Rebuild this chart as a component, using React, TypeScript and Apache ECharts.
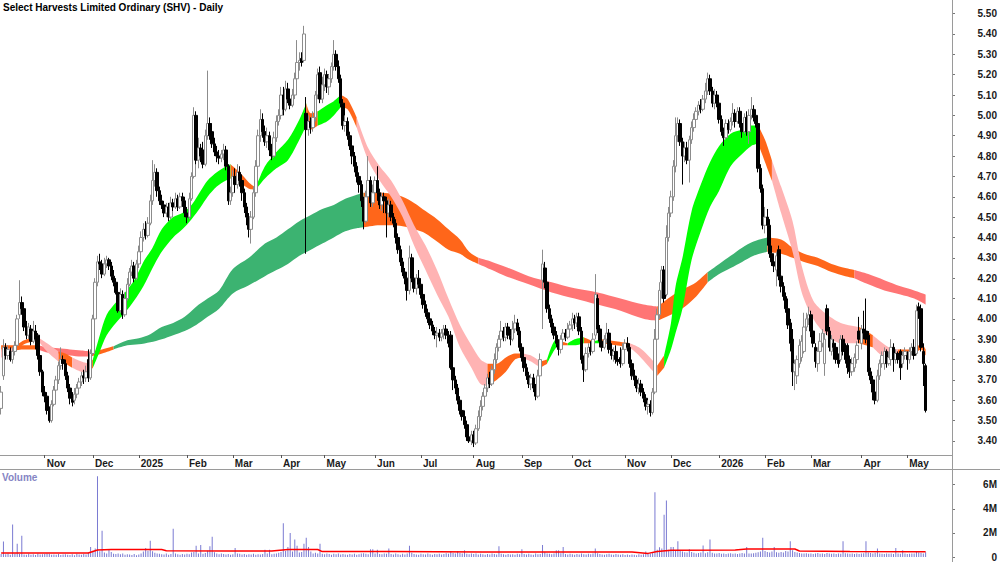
import React, { useEffect, useRef } from "react";
import * as echarts from "echarts";

const TITLE = "Select Harvests Limited Ordinary (SHV) - Daily";
const FIRST_DAY = "2024-10-07";
const HOLIDAYS = [
  "2024-12-25", "2024-12-26", "2025-01-01", "2025-01-27", "2025-04-18", "2025-04-21",
  "2025-04-25", "2025-06-09", "2025-12-25", "2025-12-26", "2026-01-01", "2026-01-26",
  "2026-04-03", "2026-04-06",
];
const EMPTY_SLOTS = 11;
const MONTH_NAMES = ["Jan", "Feb", "Mar", "Apr", "May", "Jun", "Jul", "Aug", "Sep", "Oct", "Nov", "Dec"];
const PRICE_TICKS = ["3.40", "3.50", "3.60", "3.70", "3.80", "3.90", "4.00", "4.10", "4.20", "4.30", "4.40", "4.50", "4.60", "4.70", "4.80", "4.90", "5.00", "5.10", "5.20", "5.30", "5.40", "5.50"];
const VOLUME_TICKS = [0, 2000000, 4000000, 6000000];
const VOLUME_TICK_LABELS = ["0", "2M", "4M", "6M"];

// daily bars [open, close, low, high] in cents
const ohlc2024 = [
  [356,364,353,367],[372,386,370,390],[386,382,380,388],[382,385,380,387],[384,380,379,386],[380,384,378,386],[384,387,382,389],[387,400,386,402],[402,408,400,419],[408,405,402,411],
  [405,396,394,407],[396,392,390,399],[392,396,390,398],[395,389,387,397],[389,394,388,399],[394,390,385,397],[392,382,380,393],[382,374,372,384],[374,364,362,375],
  [364,362,359,367],[362,355,353,364],[355,350,349,357],[350,358,349,360],[358,365,357,367],[365,370,363,372],[370,377,368,379],[377,380,375,386],[380,378,375,382],[378,372,370,380],
  [372,366,364,374],[366,361,358,368],[361,359,357,364],[360,363,358,366],[363,366,361,368],[366,369,364,371],[369,372,367,374],[372,371,368,375],[371,374,369,377],[380,371,369,385],[371,383,370,385],
  [383,400,382,402],[400,418,399,420],[418,428,416,431],[428,427,424,432],[427,422,420,429],[422,427,421,430],[427,429,425,431],[429,426,424,430],[426,421,419,428],[421,418,416,424],
  [418,413,412,420],[413,404,403,415],[404,412,403,415],[412,402,400,414],[402,410,401,413],[410,417,409,420],[417,423,416,425],[423,426,421,429],[426,420,418,428],[420,427,419,429],
];
const ohlc2025H1 = [
  [427,433,425,436],[433,440,431,443],[440,444,438,447],[444,441,439,448],[441,447,440,450],[447,458,446,461],[458,468,456,478],[468,472,465,476],[472,463,460,474],[463,458,456,465],
  [458,456,454,461],[456,452,450,458],[452,455,450,457],[455,450,448,457],[450,457,449,460],[457,455,453,459],[455,459,454,462],[459,455,453,461],[455,460,454,462],[460,458,455,462],[458,452,450,460],
  [452,450,447,455],[450,459,449,462],[459,470,458,472],[470,500,469,504],[500,478,476,502],[478,484,474,489],[484,480,477,486],[483,476,474,487],[476,490,475,493],[490,496,488,522],
  [496,490,488,499],[492,486,484,496],[486,482,480,489],[482,480,477,485],[480,479,476,483],[479,481,477,483],[481,483,478,486],[483,475,473,485],[475,458,456,476],[458,462,456,465],
  [462,470,460,473],[470,466,462,474],[466,472,464,476],[472,468,465,475],[468,462,458,471],[462,455,452,464],[455,450,446,457],[450,444,440,452],[444,450,437,453],[450,462,449,465],
  [462,475,460,478],[475,490,473,493],[490,498,487,503],[498,492,489,501],[492,487,485,495],[487,490,484,494],[490,483,480,492],[483,480,478,486],[480,489,479,492],[489,497,487,500],[497,500,495,503],
  [500,510,498,514],[510,503,500,514],[503,513,502,517],[513,508,506,516],[508,505,503,511],[505,510,504,513],[510,518,508,521],[518,526,516,537],[526,527,522,531],[528,526,524,531],
  [527,540,526,544],[501,493,432,509],[493,497,490,500],[497,494,491,499],[494,499,492,502],[499,510,497,512],[510,520,508,523],[521,508,506,524],[508,515,506,519],
  [515,520,512,523],[520,514,511,522],[514,518,510,520],[518,524,516,526],[524,530,522,537],[530,524,522,532],[524,518,516,527],[518,506,504,520],[506,495,493,508],[495,497,492,500],
  [497,490,488,499],[490,485,483,492],[485,480,476,487],[480,475,472,482],[475,470,467,477],[470,466,462,472],[466,458,455,468],[458,448,444,460],[448,460,447,463],[460,468,458,480],[468,457,455,470],[457,462,455,466],
  [462,468,460,470],[468,462,458,475],[462,456,454,464],[456,460,453,462],[460,458,452,462],[458,452,440,460],[452,456,450,459],[456,450,448,458],[450,447,445,452],[447,440,437,449],
  [440,434,432,442],[434,428,426,436],[428,423,421,430],[423,420,417,425],[420,414,409,421],[414,430,412,436],[430,420,418,432],[420,415,413,424],[415,420,412,422],[420,417,415,424],
];
const ohlc2025H2 = [
  [417,412,410,420],[412,407,405,414],[407,403,401,409],[403,400,398,405],[400,397,395,402],[397,394,392,399],[394,392,390,396],[392,393,386,396],[393,391,389,395],[391,393,389,395],
  [393,395,390,397],[395,392,390,397],[392,388,386,394],[392,376,375,394],[376,370,365,378],[370,366,363,372],[366,360,358,368],[360,355,353,362],[355,352,350,358],[352,348,346,355],
  [348,342,340,350],[342,340,339,344],[340,343,338,345],
  [343,339,337,345],[339,346,338,348],[346,352,345,355],[352,357,350,360],[357,362,355,364],[362,366,360,368],[366,371,364,373],[371,368,366,374],[368,375,367,377],[375,380,373,383],
  [380,386,378,388],[386,390,384,392],[390,394,388,399],[394,391,389,396],[391,396,389,398],[396,392,390,398],[392,390,387,395],[390,395,389,399],[395,398,393,402],[398,394,392,400],[394,386,384,396],
  [386,381,379,388],[381,376,374,383],[376,372,370,378],[372,368,366,374],[368,371,365,373],[371,366,364,373],[366,362,360,368],[362,372,361,375],[372,380,370,383],[419,427,395,434],
  [425,418,415,428],[418,405,403,420],[405,400,398,407],[400,396,393,402],[396,392,390,398],[392,388,386,394],[388,385,382,390],[385,390,383,392],[390,393,388,395],[393,391,389,395],[391,395,390,398],[395,397,393,399],
  [397,400,394,403],[400,398,395,402],[398,401,396,403],[401,394,392,403],[394,380,378,396],[380,375,369,382],[375,383,374,386],[383,386,381,388],[386,384,382,389],[384,390,383,393],
  [392,412,390,422],[410,395,393,412],[395,389,386,397],[389,386,384,392],[386,390,385,392],[390,393,388,398],[393,385,383,395],[385,382,380,388],[382,384,379,386],[384,380,378,387],
  [380,379,377,383],[381,378,376,386],[378,385,377,388],
  [385,388,383,390],[388,386,384,391],[386,378,376,388],[378,372,370,380],[372,370,367,375],[370,366,364,372],[366,368,363,371],[368,364,362,370],[364,361,359,366],[361,357,355,363],
  [357,358,353,360],[358,354,352,360],[354,364,353,366],[364,390,363,395],[390,402,388,405],[402,414,400,418],[418,424,410,426],[424,410,408,426],[412,440,411,446],[440,452,438,455],
  [452,460,450,463],[460,475,458,478],[475,490,472,499],[490,496,487,499],[496,487,485,498],[487,480,466,489],[480,484,477,487],[484,478,476,487],[478,488,467,490],[488,494,486,497],
  [494,498,492,501],[498,502,496,504],[502,505,500,507],[505,503,501,508],[503,508,502,510],[508,512,506,516],[512,518,510,521],[518,512,510,520],[512,506,504,514],[506,510,503,513],[510,506,504,512],
];
const ohlc2026 = [
  [506,498,496,508],[498,492,490,500],[492,489,485,494],[489,496,488,498],[496,493,491,498],[493,497,492,499],[497,501,495,506],[501,497,494,503],[497,502,496,504],[502,496,494,504],
  [496,492,489,498],[492,499,491,501],[499,492,490,502],[492,500,486,503],[500,503,498,509],[503,499,497,505],[500,496,494,503],[496,474,472,498],[474,464,462,476],[464,446,444,466],
  [446,450,442,455],[450,446,436,454],[446,432,430,449],[432,428,426,436],[428,426,423,432],[424,431,416,433],[434,421,419,436],[421,416,413,423],[416,411,409,418],[411,405,403,413],
  [405,397,395,410],[398,388,384,400],[390,374,367,395],[374,378,365,380],[372,380,368,382],[378,387,376,390],[381,389,379,392],[384,396,383,403],[396,400,394,403],[400,402,397,406],
  [402,394,391,404],[394,388,386,396],[386,379,376,388],[378,384,374,386],[384,389,382,393],[388,393,386,395],[378,390,372,393],[405,394,392,407],[394,386,384,396],[384,390,382,392],
  [388,386,380,390],[386,380,378,388],[380,378,376,383],[380,390,379,392],[390,384,382,392],[386,380,378,388],[387,376,373,388],[380,374,371,382],[374,378,372,381],[376,381,374,383],
  [380,387,378,389],[394,390,388,401],
  [388,395,385,397],[395,393,390,404],[394,390,388,410],[392,374,372,394],[374,370,368,376],[370,364,360,372],[364,360,358,366],[360,372,359,375],[372,378,370,380],[378,382,376,384],
  [378,384,375,386],[384,378,376,385],[378,381,377,384],[380,386,377,390],[386,380,374,388],[380,383,378,385],[383,380,378,384],[384,376,370,385],[378,382,376,384],[382,384,380,386],
  [382,380,375,384],[380,384,378,386],[384,386,382,388],[386,382,380,390],[383,404,382,407],[406,404,400,408],[405,386,384,407],[384,378,367,388],[377,355,354,378],
];

// daily volume, thousands of shares
const volumeK = [
  250,1290,220,300,180,2700,260,1100,240,1760, 210,190,260,180,230,170,280,200,220,250,
  300,260,190,210,180,240,160,200,230,190, 170,220,150,260,200,180,240,210,350,830,
  520,700,6700,480,2170,380,300,600,420,260, 240,300,220,280,190,230,210,170,250,150,
  200,280,460,750,520,1350,480,360,300,260, 230,200,280,190,240,2340,300,220,180,250,
  200,260,230,380,420,930,300,990,260,340, 520,900,1680,400,280,230,300,250,200,240,
  180,220,750,300,260,200,240,180,230,210, 260,190,230,200,240,600,280,600,220,260,
  300,360,420,2800,500,830,2000,460,1460,930, 380,420,1100,1600,830,450,300,350,280,1100,
  260,220,300,240,190,260,230,280,200,250, 210,180,240,200,260,190,230,280,320,260,
  220,650,650,300,600,250,220,300,260,700, 240,200,280,230,190,260,210,300,930,350,
  240,210,190,260,230,200,280,220,180,250, 230,270,200,240,310,260,500,330,280,500,
  340,300,550,260,220,300,240,280,200,260, 230,190,250,210,280,240,200,900,260,230,
  190,250,210,230,180,260,220,650,240,200, 260,210,190,280,230,250,1000,400,300,260,
  220,280,550,550,310,830,240,200,260,220, 190,250,210,280,230,200,260,220,300,700,
  320,250,210,190,230,260,200,180,240,210, 190,230,170,200,160,210,180,150,220,190,
  230,450,260,300,350,5370,600,800,700,3500, 4680,600,830,830,500,1300,520,450,400,380,
  650,420,360,300,340,380,950,320,400,1450, 360,300,280,340,260,300,240,280,320,260,
  300,250,280,340,290,830,300,280,320,360, 400,450,1600,500,420,380,460,830,400,350,
  420,380,500,460,1300,560,420,380,340,300, 280,320,260,300,240,280,330,260,300,250,
  340,280,260,300,240,280,260,1300,320,280, 260,300,240,280,250,300,320,1300,380,340,
  300,360,700,280,260,240,300,260,280,240, 750,300,260,550,280,240,260,300,280,420,
  380,340,300,400,
];
// volume moving average, [bar index, millions]
const volumeAvg = [
  [0,0.33],[38,0.33],[42,0.58],[48,0.63],[70,0.62],[72,0.52],[100,0.5],[118,0.5],[125,0.62],[138,0.62],
  [140,0.45],[170,0.46],[190,0.44],[210,0.42],[230,0.41],[275,0.41],[282,0.3],[286,0.45],[292,0.55],[320,0.58],
  [325,0.66],[346,0.66],[348,0.5],[370,0.46],[403,0.44],
];

// short-term ribbon edges, [bar index, lower, upper]
const shortRibbon = [
  [0,3.81,3.85],[5,3.83,3.855],[10,3.875,3.895],[16,3.895,3.91],[20,3.84,3.88],[25,3.79,3.84],[28,3.78,3.83],[31,3.76,3.81],[35,3.74,3.79],[38,3.735,3.78],
  [40,3.76,3.8],[43,3.84,3.92],[46,3.92,4.02],[50,3.98,4.08],[54,4.03,4.13],[58,4.09,4.19],[62,4.16,4.28],[66,4.25,4.35],[70,4.33,4.44],[75,4.4,4.5],
  [79,4.44,4.52],[83,4.49,4.56],[87,4.55,4.63],[90,4.6,4.68],[94,4.65,4.72],[98,4.68,4.75],[100,4.69,4.76],[104,4.67,4.72],[108,4.64,4.67],[111,4.635,4.645],
  [115,4.69,4.75],[120,4.74,4.82],[125,4.78,4.88],[130,4.88,4.98],[133,4.95,5.06],[135,4.93,5.01],[138,4.95,5.02],[142,4.97,5.05],[145,5.0,5.07],[148,5.04,5.1],
  [151,5.03,5.08],[155,4.94,4.99],[160,4.78,4.84],[165,4.68,4.75],[170,4.6,4.68],[175,4.5,4.58],[180,4.36,4.46],[185,4.24,4.36],[190,4.12,4.24],[195,4.01,4.1],
  [200,3.86,3.97],[205,3.76,3.87],[209,3.68,3.8],[212,3.67,3.78],[216,3.7,3.78],[220,3.74,3.81],[224,3.8,3.83],[227,3.81,3.83],[231,3.79,3.82],[235,3.76,3.79],
  [238,3.78,3.8],[242,3.86,3.9],[244,3.87,3.89],[247,3.87,3.88],[250,3.87,3.9],[254,3.88,3.91],[258,3.88,3.89],[262,3.88,3.9],[268,3.87,3.89],[274,3.86,3.88],
  [278,3.82,3.86],[282,3.77,3.82],[286,3.72,3.77],[289,3.76,3.82],[292,3.85,3.98],[294,3.93,4.16],[297,4.05,4.3],[301,4.29,4.53],[305,4.43,4.66],[309,4.55,4.77],
  [313,4.63,4.85],[318,4.75,4.91],[323,4.81,4.93],[327,4.85,4.95],[330,4.86,4.95],[333,4.77,4.88],[336,4.68,4.78],[340,4.52,4.65],[345,4.33,4.48],[349,4.13,4.26],
  [354,4.0,4.09],[359,3.93,4.03],[366,3.88,3.98],[374,3.88,3.96],[380,3.86,3.92],[387,3.8,3.86],[391,3.81,3.85],[398,3.83,3.85],[401,3.85,3.88],[403,3.82,3.85],
];
// colour spans of the short ribbon, [from index, to index, colour]
const shortColours = [
  [0,5,"pink"],[5,16,"orange"],[16,25,"pink"],[25,31,"orange"],[31,38,"pink"],[38,40,"orange"],[40,100,"lime"],[100,111,"orange"],
  [111,133,"lime"],[133,138,"orange"],[138,148,"lime"],[148,155,"orange"],[155,212,"pink"],[212,227,"orange"],[227,235,"pink"],
  [235,238,"orange"],[238,244,"lime"],[244,247,"orange"],[247,254,"lime"],[254,258,"orange"],[258,262,"lime"],[262,274,"orange"],
  [274,286,"pink"],[286,289,"orange"],[289,330,"lime"],[330,336,"orange"],[336,374,"pink"],[374,380,"orange"],[380,391,"pink"],[391,403,"orange"],
];

// long-term ribbon edges, [bar index, lower, upper]
const longRibbon = [
  [0,3.84,3.87],[5,3.845,3.87],[10,3.85,3.87],[16,3.85,3.87],[20,3.835,3.86],[25,3.83,3.855],[30,3.82,3.85],[35,3.815,3.845],[39,3.815,3.84],[44,3.83,3.85],
  [49,3.85,3.865],[55,3.87,3.895],[60,3.875,3.905],[65,3.885,3.925],[70,3.9,3.96],[75,3.92,3.98],[80,3.94,4.01],[85,3.97,4.06],[90,4.01,4.1],[95,4.05,4.14],
  [101,4.125,4.245],[108,4.165,4.3],[115,4.21,4.37],[120,4.24,4.4],[125,4.27,4.44],[130,4.31,4.48],[135,4.34,4.51],[140,4.37,4.54],[145,4.4,4.56],[150,4.43,4.59],
  [155,4.445,4.61],[158,4.45,4.62],[165,4.46,4.62],[170,4.46,4.615],[175,4.455,4.6],[180,4.44,4.57],[185,4.42,4.53],[190,4.38,4.49],[195,4.34,4.44],[200,4.32,4.39],
  [204,4.29,4.33],[208,4.27,4.3],[214,4.24,4.28],[220,4.21,4.255],[230,4.17,4.21],[240,4.13,4.18],[250,4.1,4.15],[260,4.07,4.13],[270,4.04,4.1],[280,4.0,4.07],
  [286,3.99,4.06],[292,4.02,4.11],[298,4.06,4.15],[303,4.11,4.18],[308,4.18,4.23],[313,4.22,4.27],[318,4.25,4.31],[323,4.28,4.35],[328,4.31,4.38],[334,4.33,4.4],
  [340,4.32,4.39],[345,4.3,4.35],[350,4.28,4.32],[356,4.26,4.3],[362,4.23,4.27],[368,4.21,4.25],[372,4.2,4.24],[378,4.17,4.22],[385,4.14,4.19],[392,4.12,4.16],
  [398,4.1,4.14],[403,4.07,4.12],
];
const longColours = [
  [0,16,"orange"],[16,39,"salmon"],[39,49,"orange"],[49,158,"sea"],[158,208,"orange"],
  [208,286,"salmon"],[286,308,"orange"],[308,334,"sea"],[334,372,"orange"],[372,403,"salmon"],
];

const PALETTE: Record<string, string> = {
  lime: "#00ff00",
  orange: "#ff661a",
  pink: "#ffb3b3",
  sea: "#3cb371",
  salmon: "#ff7575",
};
const FONT = "Liberation Sans, Arial, Helvetica, sans-serif";

function tradingDays(start: string, count: number): string[] {
  const out: string[] = [];
  let t = Date.parse(start + "T00:00:00Z");
  while (out.length < count) {
    const d = new Date(t);
    const wd = d.getUTCDay();
    const iso = d.toISOString().slice(0, 10);
    if (wd !== 0 && wd !== 6 && HOLIDAYS.indexOf(iso) < 0) out.push(iso);
    t += 86400000;
  }
  return out;
}

function ribbonSeries(samples: number[][], spans: any[], prefix: string, z: number) {
  const out: any[] = [];
  spans.forEach(([a, b, col], k) => {
    const pts = samples.filter((s) => s[0] >= a && s[0] <= b);
    const stack = prefix + k;
    out.push({
      type: "line", xAxisIndex: 0, yAxisIndex: 0, stack, silent: true, z,
      data: pts.map((s) => [s[0], s[1]]),
      symbol: "none", smooth: 0.3, lineStyle: { width: 0, opacity: 0 },
    });
    out.push({
      type: "line", xAxisIndex: 0, yAxisIndex: 0, stack, silent: true, z,
      data: pts.map((s) => [s[0], +(s[2] - s[1]).toFixed(4)]),
      symbol: "none", smooth: 0.3, lineStyle: { width: 0, opacity: 0 },
      areaStyle: { color: PALETTE[col], opacity: 1 },
    });
  });
  return out;
}

function buildOption() {
  const bars = [...ohlc2024, ...ohlc2025H1, ...ohlc2025H2, ...ohlc2026];
  const dates = tradingDays(FIRST_DAY, bars.length);
  const cats = [...dates, ...Array.from({ length: EMPTY_SLOTS }, (_, k) => "pad" + k)];
  const isMonthStart = (index: number) =>
    index > 0 && index < dates.length && dates[index].slice(0, 7) !== dates[index - 1].slice(0, 7);
  const priceTickValues = PRICE_TICKS.map((s) => parseFloat(s));

  return {
    animation: false,
    title: {
      text: TITLE, left: 3, top: 2, padding: 0,
      textStyle: { fontSize: 10, fontWeight: "bold", color: "#000", fontFamily: FONT },
    },
    grid: [
      { left: 0, right: 48, top: 0, height: 455 },
      { left: 0, right: 48, top: 469, height: 89 },
    ],
    xAxis: [
      {
        type: "category", gridIndex: 0, data: cats, boundaryGap: true,
        axisLine: { show: true, lineStyle: { color: "#9a9a9a", width: 1 } },
        axisTick: { show: true, interval: (i: number) => isMonthStart(i), alignWithLabel: true, length: 3, lineStyle: { color: "#555" } },
        axisLabel: {
          interval: (i: number) => isMonthStart(i),
          formatter: (v: string) => {
            const m = parseInt(v.slice(5, 7), 10);
            return m === 1 ? v.slice(0, 4) : MONTH_NAMES[m - 1];
          },
          align: "left", padding: [0, 0, 0, 2], margin: 3,
          fontSize: 10, fontWeight: "bold", color: "#1a1a1a", fontFamily: FONT,
        },
        splitLine: { show: false },
      },
      { type: "category", gridIndex: 1, data: cats, boundaryGap: true, show: false },
    ],
    yAxis: [
      {
        type: "value", gridIndex: 0, position: "right", min: 3.331, max: 5.567,
        axisLine: { show: false }, splitLine: { show: false },
        axisTick: { show: true, length: 3, customValues: priceTickValues, lineStyle: { color: "#777" } },
        axisLabel: {
          customValues: priceTickValues, formatter: (v: number) => v.toFixed(2),
          align: "right", margin: 45, fontSize: 10, fontWeight: "bold", color: "#1a1a1a", fontFamily: FONT,
        },
      },
      {
        type: "value", gridIndex: 1, position: "right", min: 0, max: 7300000,
        axisLine: { show: false }, splitLine: { show: false },
        axisTick: { show: true, length: 3, customValues: VOLUME_TICKS, lineStyle: { color: "#777" } },
        axisLabel: {
          customValues: VOLUME_TICKS,
          formatter: (v: number) => VOLUME_TICK_LABELS[VOLUME_TICKS.indexOf(v)] ?? "",
          align: "right", margin: 45, fontSize: 10, fontWeight: "bold", color: "#1a1a1a", fontFamily: FONT,
        },
      },
    ],
    graphic: [
      { type: "line", shape: { x1: 952.5, y1: 0, x2: 952.5, y2: 562 }, style: { stroke: "#9a9a9a", lineWidth: 1 }, z: 100 },
      { type: "line", shape: { x1: 0, y1: 469.5, x2: 1000, y2: 469.5 }, style: { stroke: "#9a9a9a", lineWidth: 1 }, z: 100 },
      {
        type: "text", x: 2, y: 472, z: 100,
        style: { text: "Volume", fill: "#8585c4", font: "bold 10px " + FONT, verticalAlign: "top" },
      },
    ],
    series: [
      ...ribbonSeries(longRibbon, longColours, "long", 1),
      ...ribbonSeries(shortRibbon, shortColours, "short", 2),
      {
        type: "candlestick", xAxisIndex: 0, yAxisIndex: 0, z: 5, silent: true,
        barWidth: 3,
        data: bars.map(([o, c, l, h]) => [o / 100, c / 100, l / 100, h / 100]),
        itemStyle: { color: "#ffffff", color0: "#000000", borderColor: "#8c8c8c", borderColor0: "#000000", borderWidth: 1 },
      },
      {
        type: "bar", xAxisIndex: 1, yAxisIndex: 1, silent: true, barWidth: 1,
        data: volumeK.map((v) => v * 1000),
        itemStyle: { color: "#7a7ad2" },
      },
      {
        type: "line", xAxisIndex: 1, yAxisIndex: 1, silent: true, symbol: "none",
        data: volumeAvg.map(([i, v]) => [i, v * 1000000]),
        lineStyle: { color: "#ff0000", width: 1.5 },
      },
    ],
  };
}

export default function App() {
  const ref = useRef<HTMLDivElement>(null);
  useEffect(() => {
    if (!ref.current) return;
    const chart = echarts.init(ref.current, undefined, { renderer: "svg" });
    chart.setOption(buildOption() as any);
    return () => chart.dispose();
  }, []);
  return <div ref={ref} style={{ position: "absolute", left: 0, top: 0, width: 1000, height: 562, background: "#fff" }} />;
}
